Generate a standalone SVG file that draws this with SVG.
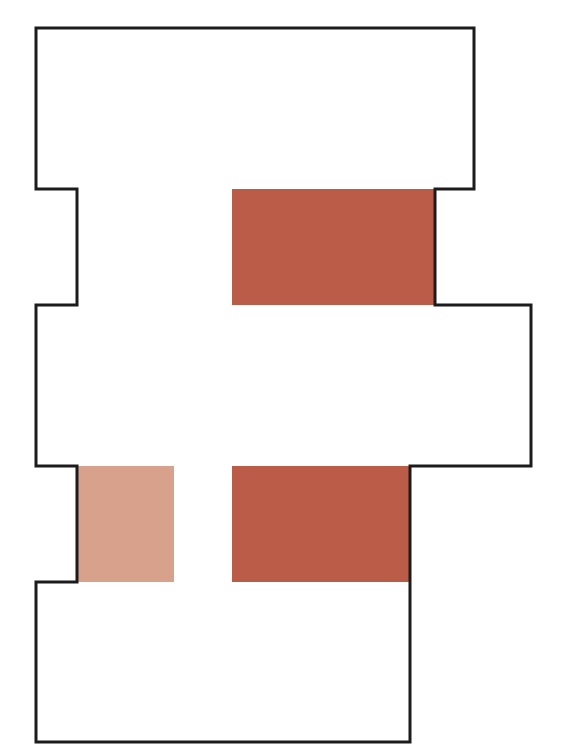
<svg xmlns="http://www.w3.org/2000/svg" width="575" height="750" viewBox="0 0 575 750">
<style>
.outline{fill:none;stroke:#1c1c1c;stroke-width:3;stroke-linejoin:miter}
.dark{fill:#bb5c48}
.light{fill:#d7a18c}
</style>
<rect width="575" height="750" fill="#ffffff"/>
<rect class="dark" x="232" y="189" width="203" height="116"/>
<rect class="light" x="78" y="466" width="96" height="116"/>
<rect class="dark" x="232" y="466" width="178" height="116"/>
<path class="outline" d="M36,28 H474 V189 H435 V305 H531 V466 H410 V742 H36 V582 H77 V466 H36 V305 H77 V189 H36 Z"/>
</svg>
